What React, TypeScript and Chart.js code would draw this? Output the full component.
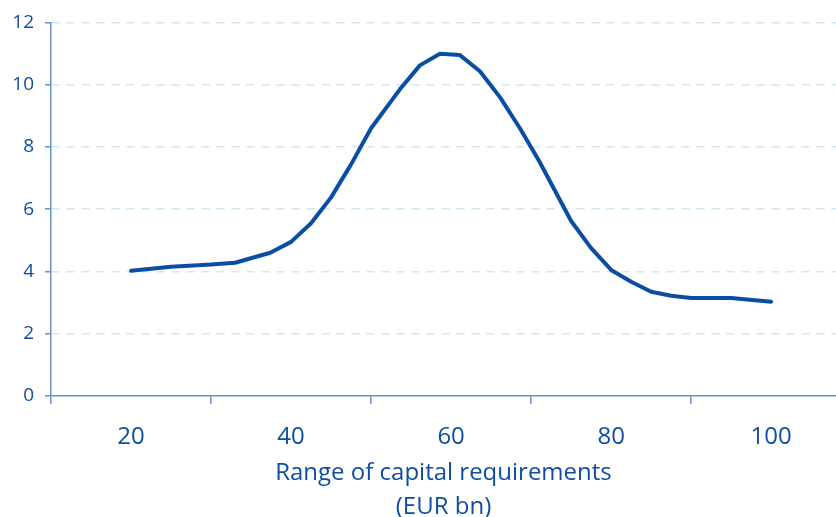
import React, { useEffect, useRef } from "react";
import { Chart, registerables } from "chart.js";

Chart.register(...registerables);

// Capital requirements (EUR bn) and the density curve drawn over them
const capitalRequirements = [
  20, 25, 30, 33, 37.4, 40, 42.5, 45, 47.5, 50, 53.6, 56.1, 58.6, 61.1, 63.6,
  66.1, 68.6, 71, 75, 77.5, 80, 82.5, 85, 87.5, 90, 95, 100,
];
const density = [
  4.02, 4.15, 4.22, 4.28, 4.6, 4.95, 5.55, 6.38, 7.44, 8.6, 9.85, 10.62, 10.99,
  10.95, 10.43, 9.6, 8.6, 7.55, 5.62, 4.75, 4.05, 3.67, 3.35, 3.22, 3.15, 3.15,
  3.03,
];
const xTickLabels = [20, 40, 60, 80, 100];
const xTitle = ["Range of capital requirements", "(EUR bn)"];

const TEXT = "#0f4ea1";
const LINE = "#0a4ea3";
const AXIS = "#6a8fcb";
const GRID = "#cfe8f6";
const FONT = "'Open Sans', sans-serif";

export default function App() {
  const canvasRef = useRef<HTMLCanvasElement | null>(null);

  useEffect(() => {
    const canvas = canvasRef.current;
    if (!canvas) return;
    const points = capitalRequirements.map((x, i) => ({ x, y: density[i] }));

    const chart = new Chart(canvas, {
      type: "line",
      data: {
        datasets: [
          {
            data: points,
            borderColor: LINE,
            borderWidth: 4,
            pointRadius: 0,
            tension: 0,
            borderCapStyle: "round",
            borderJoinStyle: "round",
            fill: false,
          },
        ],
      },
      options: {
        animation: false,
        responsive: false,
        maintainAspectRatio: false,
        layout: { padding: { top: 18, left: 0, right: 0, bottom: 0 } },
        plugins: { legend: { display: false }, tooltip: { enabled: false } },
        scales: {
          x: {
            type: "linear",
            min: 10,
            max: 108.1,
            afterFit: (scale: any) => {
              scale.height = 121;
              scale.paddingLeft = 0;
              scale.paddingRight = 0;
            },
            ticks: {
              stepSize: 10,
              includeBounds: false,
              autoSkip: false,
              maxRotation: 0,
              padding: 19,
              color: TEXT,
              font: { family: FONT, size: 24 },
              callback: (v: any) => {
                const n = Math.round(Number(v) * 100) / 100;
                return xTickLabels.includes(n) ? String(n) : "";
              },
            },
            grid: {
              drawOnChartArea: false,
              drawTicks: true,
              tickLength: 8,
              lineWidth: 1.5,
              tickColor: (ctx: any) =>
                ctx.tick &&
                Math.abs(((ctx.tick.value - 10) % 20 + 20) % 20) < 0.01
                  ? AXIS
                  : "rgba(0,0,0,0)",
            },
            border: { display: true, color: AXIS, width: 1.5 },
            title: {
              display: true,
              text: xTitle,
              color: TEXT,
              font: { family: FONT, size: 24, lineHeight: 34 / 24 },
              padding: { top: 0, bottom: -7 },
            },
          },
          y: {
            min: 0,
            max: 12,
            afterFit: (scale: any) => {
              scale.width = 51;
            },
            ticks: {
              stepSize: 2,
              padding: 11,
              color: TEXT,
              font: { family: FONT, size: 19 },
            },
            grid: {
              color: (ctx: any) =>
                ctx.tick && ctx.tick.value === 0 ? "rgba(0,0,0,0)" : GRID,
              lineWidth: 1.5,
              tickLength: 6,
              tickColor: AXIS,
              tickBorderDash: [],
            },
            border: { display: true, color: AXIS, width: 1.5, dash: [8, 7] },
          },
        },
      },
    });

    return () => chart.destroy();
  }, []);

  return (
    <div
      style={{
        position: "absolute",
        left: 0,
        top: 0,
        width: 836,
        height: 517,
        background: "#ffffff",
      }}
    >
      <canvas ref={canvasRef} width={836} height={517} />
    </div>
  );
}
